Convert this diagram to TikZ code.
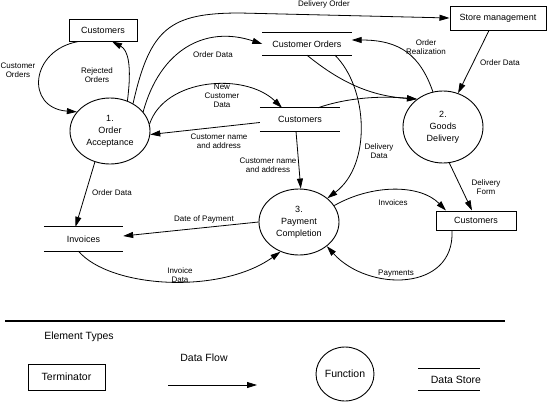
\documentclass[tikz,border=0pt]{standalone}
\usepackage{fontspec}
\setmainfont{Liberation Sans}
\usetikzlibrary{arrows.meta,shapes.geometric}
\begin{document}
\begin{tikzpicture}[x=1pt,y=-1pt,
 lbl/.style={font=\fontsize{8}{9}\selectfont, align=center, inner sep=0pt},
 term/.style={draw, line width=1pt, font=\fontsize{9}{11}\selectfont, inner sep=0pt},
 func/.style={draw, ellipse, line width=0.9pt, font=\fontsize{9}{12}\selectfont, align=center, inner sep=0pt},
 store/.style={font=\fontsize{9}{11}\selectfont, inner sep=0pt},
 storeline/.style={line width=1pt},
 leg/.style={font=\fontsize{10.5}{12}\selectfont, inner sep=0pt},
 flow/.style={line width=0.8pt, -{Triangle[length=10pt,width=6pt]}},
 ]
\fill[white] (0,0) rectangle (550,402);
\useasboundingbox (0,0) rectangle (550,402);

% nodes
\node[term, minimum width=68pt, minimum height=22pt] (t1) at (103,30) {Customers};
\node[func, minimum width=80pt, minimum height=66pt] (c1) at (110,131) {1.\\Order\\Acceptance};
\node[store, minimum width=89pt, minimum height=22pt] (co) at (307,44) {Customer Orders};
\node[term, minimum width=96pt, minimum height=24pt] (sm) at (498,18) {Store management};
\node[store, minimum width=80pt, minimum height=23pt] (cs) at (300,119.5) {Customers};
\node[func, minimum width=80pt, minimum height=72pt] (c2) at (443,127) {2.\\Goods\\Delivery};
\node[store, minimum width=79pt, minimum height=24pt] (inv) at (83.5,239) {Invoices};
\node[func, minimum width=80pt, minimum height=66pt] (c3) at (299,222) {3.\\Payment\\Completion};
\node[term, minimum width=80pt, minimum height=19pt] (t2) at (476,220.5) {Customers};

\foreach \n in {co,cs,inv}
  \draw[storeline] (\n.north west) -- (\n.north east) (\n.south west) -- (\n.south east);

% flows
\draw[flow] ([xshift=10pt]t1.south west) .. controls (30,50) and (25,108) .. (c1.150);
\draw[flow] (c1.60) .. controls (132,65) and (128,50) .. ([xshift=9pt]t1.south);
\draw[flow] (c1.50) .. controls (150,28) and (170,13) .. (240,13) -- (sm.west);
\draw[flow] (c1.30) .. controls (160,50) and (205,25) .. (co.west);
\draw[flow] (c1.10) .. controls (165,78) and (245,72) .. ([xshift=-18pt]cs.north);
\draw[flow] ([yshift=-3pt]cs.west) -- (c1.-5);
\draw[flow] ([xshift=-4pt]cs.south) -- (c3.87);
\draw[flow] ([xshift=28pt]co.south) .. controls (368,88) and (372,165) .. (c3.40);
\draw[flow] (co.south) .. controls (340,82) and (370,96) .. (c2.133);
\draw[flow] ([xshift=18pt]cs.north) .. controls (340,100) and (372,95) .. (c2.133);
\draw[flow] (c2.106) .. controls (420,55) and (400,40) .. ([yshift=4pt]co.east);
\draw[flow] ([xshift=-9pt]sm.south) -- (c2.66);
\draw[flow] (c1.244) -- ([xshift=-8pt]inv.north);
\draw[flow] (c3.180) -- ([yshift=3pt]inv.east);
\draw[flow] ([xshift=-5pt]inv.south) .. controls (110,288) and (220,295) .. (c3.238);
\draw[flow] (c3.25) .. controls (372,184) and (420,184) .. ([xshift=-30pt]t2.north);
\draw[flow] (c2.280) -- ([xshift=-4pt]t2.north);
\draw[flow] ([xshift=-24pt]t2.south) .. controls (455,292) and (368,292) .. (c3.-41);

% labels
\node[lbl] (l1) at (18,70) {Customer\\Orders};
\node[lbl] (l2) at (97,75) {Rejected\\Orders};
\node[lbl] (l3) at (324,4) {Delivery Order};
\node[lbl] (l4) at (213,55) {Order Data};
\node[lbl] (l5) at (222,96) {New\\Customer\\Data};
\node[lbl] (l6) at (219,141) {Customer name\\and address};
\node[lbl] (l7) at (268,165) {Customer name\\and address};
\node[lbl] (l8) at (379,151) {Delivery\\Data};
\node[lbl] (l9) at (426,47) {Order\\Realization};
\node[lbl] (l10) at (500,63) {Order Data};
\node[lbl] (l11) at (112,193) {Order Data};
\node[lbl] (l12) at (204,219) {Date of Payment};
\node[lbl] (l13) at (180,275) {Invoice\\Data};
\node[lbl] (l14) at (393,203) {Invoices};
\node[lbl] (l15) at (486,187) {Delivery\\Form};
\node[lbl] (l16) at (396,274) {Payments};

% legend
\coordinate (sepa) at (5,321);
\coordinate (sepb) at (505,321);
\draw[line width=1.2pt] (sepa) -- (sepb);
\node[leg] (et) at (79,337) {Element Types};
\node[term, leg, minimum width=77pt, minimum height=26pt, line width=1pt] (lt) at (66.5,377) {Terminator};
\node[leg] (ldf) at (204,358) {Data Flow};
\coordinate (dfa) at (168,385);
\coordinate (dfb) at (257,385);
\draw[flow] (dfa) -- (dfb);
\node[func, leg, minimum width=58pt, minimum height=54pt] (lf) at (345,374) {Function};
\coordinate (dsa) at (418,368);
\coordinate (dsb) at (480,368);
\coordinate (dsc) at (418,390);
\coordinate (dsd) at (480,390);
\draw[storeline] (dsa) -- (dsb) (dsc) -- (dsd);
\node[leg] (lds) at (456,380) {Data Store};
\end{tikzpicture}
\end{document}
